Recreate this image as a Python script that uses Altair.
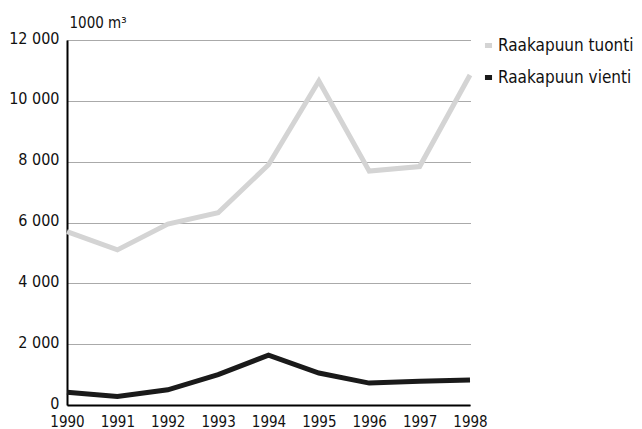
import altair as alt
import pandas as pd

years = [1990, 1991, 1992, 1993, 1994, 1995, 1996, 1997, 1998]
tuonti = [5700, 5100, 5950, 6320, 7900, 10650, 7690, 7840, 10850]
vienti = [420, 280, 500, 1000, 1640, 1050, 720, 780, 820]
series_names = ["Raakapuun tuonti", "Raakapuun vienti"]
y_ticks = [0, 2000, 4000, 6000, 8000, 10000, 12000]

rows = []
for y, v in zip(years, tuonti):
    rows.append({"year": y, "value": v, "series": series_names[0]})
for y, v in zip(years, vienti):
    rows.append({"year": y, "value": v, "series": series_names[1]})
df = pd.DataFrame(rows)

FONT = "DejaVu Sans Condensed, Liberation Sans Narrow, sans-serif"

chart = alt.Chart(df).mark_line(strokeWidth=5, strokeJoin="miter").encode(
    x=alt.X("year:Q",
            scale=alt.Scale(domain=[1990, 1998], nice=False, zero=False),
            axis=alt.Axis(values=years, format="d", title=None, grid=False,
                          ticks=False, domainColor="black", domainWidth=2,
                          labelFontSize=15, labelFont=FONT, labelColor="#111",
                          labelPadding=9, labelFlush=False)),
    y=alt.Y("value:Q",
            scale=alt.Scale(domain=[0, 12000], nice=False),
            axis=alt.Axis(values=y_ticks, title="1000 m³", titleAngle=0,
                          titleAlign="left", titleBaseline="bottom",
                          titleX=2, titleY=-10, titleFont=FONT, titleFontSize=15,
                          titleFontWeight="normal", titleColor="#111",
                          labelExpr="replace(format(datum.value, ','), ',', ' ')",
                          labelFontSize=16, labelFont=FONT, labelColor="#111",
                          labelPadding=8, labelOffset=-2, ticks=False,
                          domainColor="black", domainWidth=2,
                          grid=True, gridColor="#555", gridDash=[1, 1],
                          gridWidth=1)),
    color=alt.Color("series:N",
                    scale=alt.Scale(domain=series_names, range=["#d4d4d4", "#1a1a1a"]),
                    legend=alt.Legend(title=None, orient="none", legendX=413, legendY=-3,
                                      symbolType="stroke", symbolSize=50,
                                      symbolStrokeWidth=5, labelFont=FONT,
                                      labelFontSize=17, labelColor="#111",
                                      labelOffset=1, rowPadding=11)),
).properties(
    width=403, height=365,
    autosize=alt.AutoSizeParams(type="none"),
    padding={"left": 59, "top": 32, "right": 164, "bottom": 24},
).configure_view(stroke=None)

chart.save("out.html", embed_options={"renderer": "svg", "actions": False})
